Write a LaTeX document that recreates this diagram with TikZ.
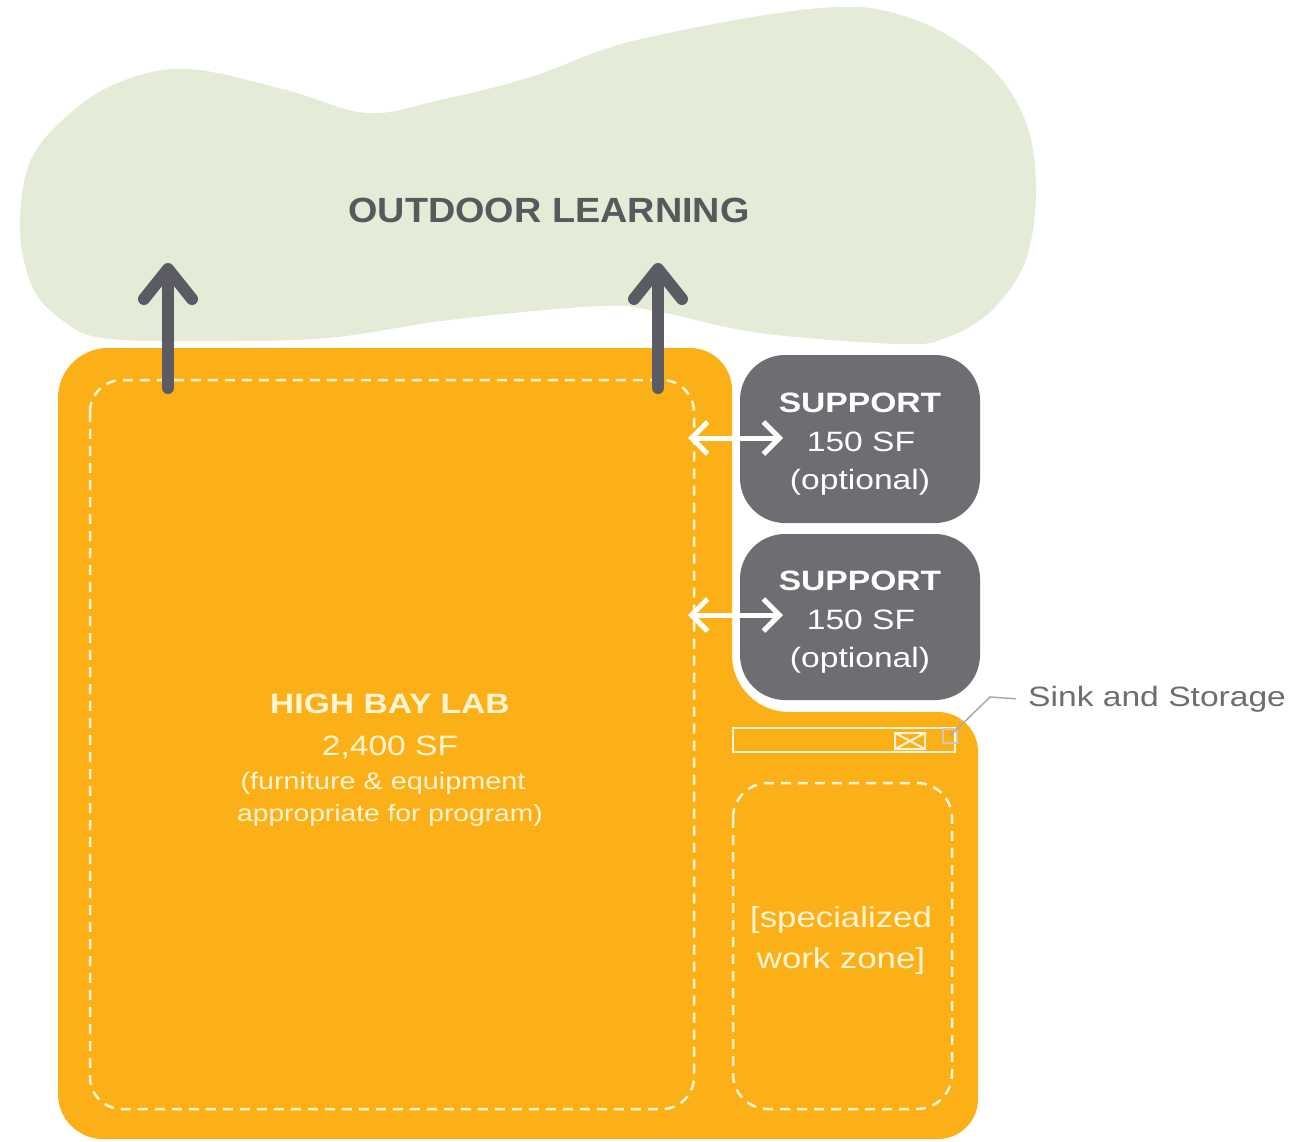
\documentclass[tikz,border=0pt]{standalone}
\usepackage{fontspec}
\setmainfont{Liberation Sans}[FakeStretch=1.2]
\newfontfamily\titlefont{Liberation Sans}[FakeStretch=1.08]
\usetikzlibrary{arrows.meta}
\definecolor{labor}{RGB}{251,176,24}
\definecolor{cloudg}{RGB}{228,235,214}
\definecolor{suppg}{RGB}{109,110,113}
\definecolor{arrowg}{RGB}{90,91,99}
\definecolor{titleg}{RGB}{88,89,91}
\definecolor{cream}{RGB}{255,244,214}
\definecolor{leadg}{RGB}{170,170,172}
\newcommand\fsz[1]{\fontsize{#1}{#1}\selectfont}
\tikzset{
  txt/.style={inner sep=0pt, anchor=base},
  labtxt/.style={txt, text=cream},
  suptxt/.style={txt, text=white},
  dashzone/.style={draw=cream, line width=2.5pt, dash pattern=on 10pt off 7pt},
  supbox/.style={fill=suppg, rounded corners=45pt},
  uparrow/.style={draw=arrowg, line width=12pt, line cap=round,
    -{Straight Barb[round, length=30pt, width=48pt]}},
  twoway/.style={draw=white, line width=5pt,
    {Straight Barb[length=16pt, width=32pt]}-{Straight Barb[length=16pt, width=32pt]}},
  fixture/.style={draw=cream, line width=2pt},
  leader/.style={draw=leadg, line width=1.5pt}
}
\begin{document}
\begin{tikzpicture}[x=1pt,y=-1pt]
\useasboundingbox[fill=white] (0,0) rectangle (1292,1141);
% outdoor cloud
\fill[cloudg] plot[smooth cycle, tension=0.6] coordinates {
  (20,230) (30,162) (68,115) (120,82) (188,69) (286,90) (367,113)
  (440,100) (531,77) (637,40) (820,8) (910,18) (985,62) (1025,120)
  (1036,190) (1025,262) (990,312) (945,338) (900,344) (760,333)
  (660,312) (600,306) (449,320) (327,338) (200,341) (102,338)
  (62,320) (33,288)};
\node[txt, text=titleg, font=\titlefont\fsz{35}\bfseries] (title) at (549,222) {OUTDOOR LEARNING};
% orange lab
\fill[labor] (108,348) -- (690,348) arc[start angle=270,end angle=360,radius=42]
  -- (732,655) arc[start angle=180,end angle=90,radius=57]
  -- (938,712) arc[start angle=270,end angle=360,radius=40]
  -- (978,1099) arc[start angle=0,end angle=90,radius=40]
  -- (103,1139) arc[start angle=90,end angle=180,radius=45]
  -- (58,398) arc[start angle=180,end angle=270,radius=50] -- cycle;
\draw[dashzone, rounded corners=32pt] (90,380) rectangle (694,1109);
\draw[dashzone, rounded corners=35pt] (733,783) rectangle (952,1109);
% support boxes
\fill[supbox] (740,355) rectangle (980,523);
\fill[supbox] (740,534) rectangle (980,700);
\node[suptxt, font=\fsz{28}\bfseries] (s1a) at (860,412) {SUPPORT};
\node[suptxt, font=\fsz{28}] (s1b) at (861,451) {150 SF};
\node[suptxt, font=\fsz{28}] (s1c) at (860,489) {(optional)};
\node[suptxt, font=\fsz{28}\bfseries] (s2a) at (860,590) {SUPPORT};
\node[suptxt, font=\fsz{28}] (s2b) at (861,629) {150 SF};
\node[suptxt, font=\fsz{28}] (s2c) at (860,667) {(optional)};
% lab text
\node[labtxt, font=\fsz{28}\bfseries] (lab1) at (390,713) {HIGH BAY LAB};
\node[labtxt, font=\fsz{28}] (lab2) at (390,755) {2,400 SF};
\node[labtxt, font=\fsz{24}] (lab3) at (383,789) {(furniture \& equipment};
\node[labtxt, font=\fsz{23.5}] (lab4) at (390,821) {appropriate for program)};
\node[labtxt, font=\fsz{29}] (wz1) at (841,927) {[specialized};
\node[labtxt, font=\fsz{29}] (wz2) at (841,968) {work zone]};
% sink and storage
\draw[fixture] (733,728) rectangle (955,752);
\draw[fixture] (895,733) rectangle (925,749) (895,733) -- (925,749) (895,749) -- (925,733);
\draw[draw=leadg!60!cream, line width=1.5pt] (943,729) rectangle (957,743);
\coordinate (sq) at (950,736);
\coordinate (elb) at (990,697);
\node[txt, anchor=base west, text=suppg, font=\fsz{28}] (sink) at (1028,706) {Sink and Storage};
\draw[leader] (sq) -- (elb) -- ([xshift=-12pt]sink.west);
% arrows
\coordinate (a1s) at (168,388);
\coordinate (a1e) at (168,263);
\coordinate (a2s) at (658,388);
\coordinate (a2e) at (658,263);
\draw[uparrow] (a1s) -- (a1e);
\draw[uparrow] (a2s) -- (a2e);
\coordinate (d1l) at (688,438);
\coordinate (d1r) at (783,438);
\coordinate (d2l) at (688,615);
\coordinate (d2r) at (783,615);
\draw[twoway] (d1l) -- (d1r);
\draw[twoway] (d2l) -- (d2r);
\end{tikzpicture}
\end{document}
